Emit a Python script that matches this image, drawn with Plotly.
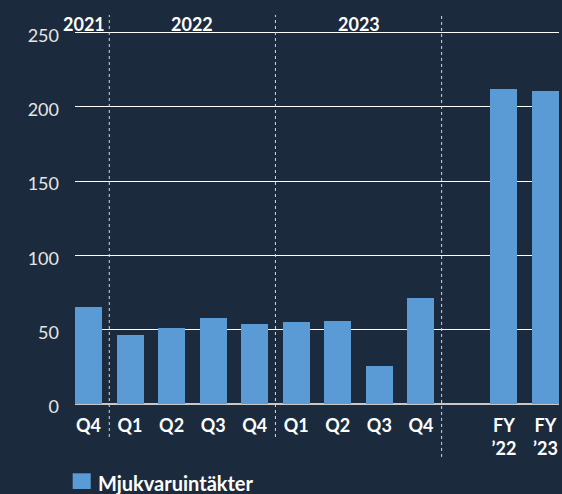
import plotly.graph_objects as go

# ---- data ----
quarter_labels = ["Q4", "Q1", "Q2", "Q3", "Q4", "Q1", "Q2", "Q3", "Q4"]
quarter_values = [65.5, 46.6, 51.3, 58.1, 54.0, 55.4, 56.0, 25.8, 71.5]
fy_labels = ["FY<br>’22", "FY<br>’23"]
fy_values = [211.7, 210.3]
year_labels = ["2021", "2022", "2023"]
year_positions = [-0.1, 2.5, 6.5]
divider_positions = [0.5, 4.5, 8.5]
y_ticks = [0, 50, 100, 150, 200, 250]
series_name = "Mjukvaruintäkter"

BG = "#1c2a3e"
BAR = "#5b9bd5"
FONT = "Lato"

q_x = list(range(len(quarter_labels)))
fy_x = [len(quarter_labels) + 1 + i for i in range(len(fy_labels))]

fig = go.Figure()
fig.add_trace(go.Bar(
    x=q_x + fy_x,
    y=quarter_values + fy_values,
    marker=dict(color=BAR, line=dict(width=0)),
    width=0.65,
    name=series_name,
    showlegend=False,
    hoverinfo="skip",
))

fig.update_layout(
    width=562, height=494,
    paper_bgcolor=BG, plot_bgcolor=BG,
    margin=dict(l=75, r=3, t=31, b=90),
    font=dict(family=FONT, color="#ffffff"),
    bargap=0,
    xaxis=dict(
        range=[-0.325, fy_x[-1] + 0.325],
        tickmode="array",
        tickvals=q_x + fy_x,
        ticktext=quarter_labels + fy_labels,
        tickfont=dict(family=FONT, size=18, color="#ffffff", weight="bold"),
        showgrid=False, zeroline=False, showline=False,
        ticks="",
        ticklabelstandoff=9,
    ),
    yaxis=dict(
        range=[0, 251],
        tickvals=y_ticks,
        tickfont=dict(family=FONT, size=18, color="#e6e6e6"),
        showgrid=True, gridcolor="#ffffff", gridwidth=1,
        zeroline=True, zerolinecolor="#c8c8c8", zerolinewidth=2,
        showline=False, ticks="",
        ticklabelshift=3,
        ticklabelstandoff=15,
    ),
)

# dotted year dividers
for i, xp in enumerate(divider_positions):
    y0 = -0.142 if i == len(divider_positions) - 1 else -0.0885
    fig.add_shape(type="line", xref="x", yref="paper",
                  x0=xp, x1=xp, y0=y0, y1=1.043,
                  line=dict(color="#d8d8d8", width=1, dash="dot"))

# year labels
for lab, xp in zip(year_labels, year_positions):
    fig.add_annotation(x=xp, y=1.019, xref="x", yref="paper",
                       text=lab, showarrow=False,
                       font=dict(family=FONT, size=18, color="#ffffff", weight="bold"),
                       xanchor="center", yanchor="middle")

# legend
fig.add_shape(type="rect", xref="paper", yref="paper",
              x0=-0.0048, x1=0.0325, y0=-0.2279, y1=-0.1858,
              fillcolor=BAR, line=dict(width=0))
fig.add_annotation(x=0.044, y=-0.212, xref="paper", yref="paper",
                   text=series_name, showarrow=False,
                   font=dict(family=FONT, size=20, color="#ffffff", weight="bold"),
                   xanchor="left", yanchor="middle")

fig.write_html("out.html",
               config={"displayModeBar": False},
               post_script="document.body.style.margin='0';document.body.style.overflow='hidden';")
